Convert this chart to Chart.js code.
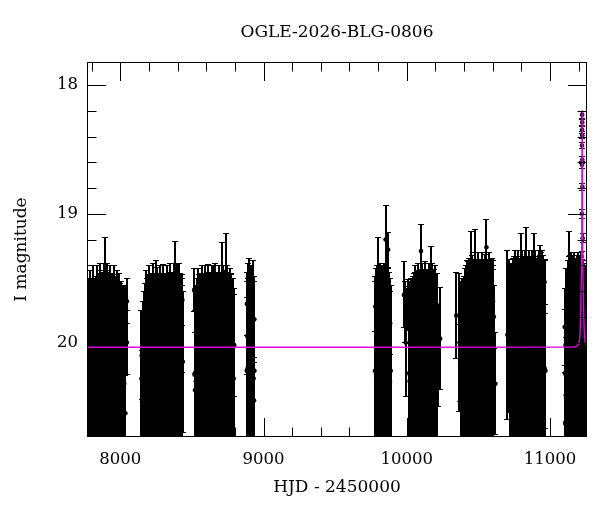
<!DOCTYPE html>
<html>
<head>
<meta charset="utf-8">
<script src="https://cdn.jsdelivr.net/npm/chart.js@4/dist/chart.umd.min.js"></script>
<style>
  html, body { margin: 0; padding: 0; background: #fff; }
  canvas { display: block; }
</style>
</head>
<body>
<canvas id="lc" width="600" height="512"></canvas>
<script>
// OGLE light curve, rows are [HJD - 2450000, I mag, error]
const season1 = [
  [7772, 20.20, 0.62], [7780, 20.30, 0.75], [7788, 20.18, 0.74], [7796, 20.25, 0.73],
  [7804, 20.34, 0.84], [7812, 20.22, 0.82], [7820, 20.18, 0.68], [7828, 20.28, 0.80],
  [7836, 20.20, 0.80], [7844, 20.32, 0.84], [7852, 20.19, 0.72], [7860, 20.26, 0.88],
  [7868, 20.22, 0.76], [7876, 20.30, 0.85], [7884, 20.18, 0.80], [7892, 20.24, 0.78],
  [7900, 20.33, 0.88], [7908, 20.20, 0.82], [7916, 20.27, 0.81], [7924, 20.18, 0.72],
  [7932, 20.30, 0.90], [7940, 20.21, 0.75], [7948, 20.28, 0.81], [7956, 20.19, 0.79],
  [7964, 20.32, 0.84], [7972, 20.20, 0.70], [7980, 20.26, 0.82], [7988, 20.18, 0.66],
  [7996, 20.30, 0.76], [8004, 20.22, 0.70], [8012, 20.28, 0.72], [8020, 20.19, 0.63],
  [8028, 20.32, 0.74], [8036, 20.24, 0.64],
  [7784, 19.70, 0.20], [7826, 19.78, 0.22], [7862, 19.62, 0.18], [7893, 19.47, 0.29],
  [7901, 19.68, 0.24], [7944, 19.72, 0.20], [7990, 19.66, 0.20], [8033, 19.80, 0.25],
  [7772, 20.45, 0.30], [8036, 20.55, 0.30], [8047, 19.68, 0.18], [8047, 20.00, 0.25]
]
const season2 = [
  [8148, 20.28, 0.53], [8156, 20.22, 0.54], [8164, 20.30, 0.70], [8172, 20.18, 0.64],
  [8180, 20.25, 0.81], [8188, 20.20, 0.70], [8196, 20.32, 0.85], [8204, 20.18, 0.78],
  [8212, 20.26, 0.79], [8220, 20.20, 0.74], [8228, 20.30, 0.92], [8236, 20.19, 0.72],
  [8244, 20.28, 0.82], [8252, 20.10, 0.74], [8260, 20.22, 0.75], [8268, 20.30, 0.84],
  [8276, 20.18, 0.78], [8284, 20.25, 0.78], [8292, 20.19, 0.73], [8300, 20.28, 0.89],
  [8308, 20.20, 0.74], [8316, 20.32, 0.85], [8324, 20.16, 0.76], [8332, 20.24, 0.78],
  [8340, 20.18, 0.73], [8348, 20.30, 0.92], [8356, 20.21, 0.75], [8364, 20.27, 0.82],
  [8372, 20.16, 0.78], [8380, 20.22, 0.76], [8388, 20.30, 0.85], [8396, 20.18, 0.80],
  [8404, 20.25, 0.79], [8412, 20.20, 0.82], [8420, 20.28, 0.82], [8428, 20.22, 0.67],
  [8150, 20.10, 0.35], [8152, 20.46, 0.40], [8200, 19.70, 0.20], [8256, 19.66, 0.25],
  [8310, 19.75, 0.20], [8382, 19.58, 0.37], [8430, 19.87, 0.37], [8434, 19.67, 0.20],
  [8437, 20.15, 0.55]
]
const season3 = [
  [8520, 20.24, 0.64], [8528, 20.30, 0.75], [8536, 20.20, 0.70], [8544, 20.26, 0.84],
  [8552, 20.18, 0.71], [8560, 20.32, 0.86], [8568, 20.20, 0.80], [8576, 20.25, 0.79],
  [8584, 20.18, 0.72], [8592, 20.30, 0.90], [8600, 20.21, 0.75], [8608, 20.28, 0.83],
  [8616, 20.16, 0.77], [8624, 20.24, 0.78], [8632, 20.19, 0.74], [8640, 20.30, 0.90],
  [8648, 20.20, 0.74], [8656, 20.26, 0.81], [8664, 20.18, 0.80], [8672, 20.25, 0.79],
  [8680, 20.20, 0.75], [8688, 20.32, 0.92], [8696, 20.18, 0.72], [8704, 20.24, 0.79],
  [8720, 20.20, 0.80], [8728, 20.28, 0.82], [8736, 20.19, 0.74], [8744, 20.26, 0.86],
  [8752, 20.20, 0.74], [8760, 20.30, 0.84], [8768, 20.18, 0.76], [8776, 20.24, 0.77],
  [8784, 20.20, 0.70], [8792, 20.28, 0.70],
  [8516, 19.59, 0.17], [8519, 20.25, 0.50], [8522, 20.37, 0.45], [8580, 19.68, 0.20],
  [8650, 19.62, 0.22], [8700, 19.75, 0.20], [8712, 19.55, 0.33], [8735, 19.45, 0.30],
  [8770, 19.66, 0.20], [8796, 20.02, 0.40]
]
const season4 = [
  [8883, 20.22, 0.70], [8889, 20.20, 0.82], [8895, 20.28, 0.78], [8901, 20.15, 0.81],
  [8907, 20.30, 0.82], [8913, 20.18, 0.78], [8919, 20.25, 0.75], [8925, 20.20, 0.84],
  [8931, 20.28, 0.80], [8937, 20.22, 0.70],
  [8884, 19.70, 0.25], [8886, 19.95, 0.30], [8901, 19.60, 0.26], [8934, 20.45, 0.30],
  [8936, 19.82, 0.30]
]
const season5 = [
  [9778, 20.22, 0.74], [9786, 20.28, 0.86], [9794, 20.18, 0.78], [9802, 20.25, 0.83],
  [9810, 20.20, 0.82], [9818, 20.30, 0.88], [9826, 20.16, 0.76], [9834, 20.24, 0.83],
  [9842, 20.20, 0.82], [9850, 20.28, 0.86], [9858, 20.18, 0.78], [9866, 20.25, 0.83],
  [9874, 20.20, 0.75], [9882, 20.30, 0.80], [9888, 20.22, 0.67],
  [9780, 19.72, 0.20], [9790, 19.62, 0.20], [9796, 19.55, 0.37], [9852, 19.20, 0.27],
  [9870, 19.28, 0.14], [9884, 19.85, 0.25]
]
const season6 = [
  [10016, 20.24, 0.68], [10024, 20.18, 0.66], [10032, 20.28, 0.78], [10040, 20.20, 0.72],
  [10048, 20.26, 0.80], [10056, 20.16, 0.76], [10064, 20.24, 0.79], [10072, 20.20, 0.76],
  [10080, 20.30, 0.92], [10088, 20.18, 0.74], [10096, 20.25, 0.82], [10104, 20.20, 0.82],
  [10112, 20.28, 0.84], [10120, 20.16, 0.73], [10128, 20.24, 0.87], [10136, 20.20, 0.76],
  [10144, 20.30, 0.87], [10152, 20.18, 0.80], [10160, 20.25, 0.81], [10168, 20.20, 0.77],
  [10176, 20.28, 0.90], [10184, 20.18, 0.74], [10192, 20.25, 0.82], [10200, 20.20, 0.80],
  [10208, 20.28, 0.82],
  [9980, 19.63, 0.26], [9990, 19.76, 0.24], [9992, 20.00, 0.42], [10012, 19.71, 0.20],
  [10020, 20.30, 0.30], [10060, 19.65, 0.20], [10099, 19.29, 0.21], [10140, 19.72, 0.20],
  [10172, 19.55, 0.30], [10213, 19.71, 0.25], [10216, 20.10, 0.40], [10233, 19.97, 0.40]
]
const season7 = [
  [10380, 20.20, 0.68], [10388, 20.26, 0.76], [10396, 20.18, 0.70], [10404, 20.25, 0.83],
  [10412, 20.20, 0.80], [10420, 20.28, 0.92], [10428, 20.16, 0.79], [10436, 20.24, 0.90],
  [10444, 20.20, 0.84], [10452, 20.28, 0.96], [10460, 20.18, 0.82], [10468, 20.25, 0.90],
  [10476, 20.20, 0.90], [10484, 20.28, 0.92], [10492, 20.16, 0.81], [10500, 20.24, 0.94],
  [10508, 20.20, 0.84], [10516, 20.30, 0.95], [10524, 20.18, 0.88], [10532, 20.25, 0.89],
  [10540, 20.20, 0.85], [10548, 20.28, 0.97], [10556, 20.18, 0.82], [10564, 20.24, 0.89],
  [10572, 20.20, 0.90], [10580, 20.28, 0.92], [10588, 20.18, 0.83], [10596, 20.25, 0.91],
  [10602, 20.20, 0.80],
  [10345, 19.79, 0.34], [10368, 20.00, 0.54], [10372, 20.16, 0.30], [10445, 19.45, 0.32],
  [10470, 19.60, 0.20], [10476, 19.55, 0.43], [10530, 19.55, 0.20], [10556, 19.26, 0.22],
  [10602, 19.68, 0.32], [10605, 19.93, 0.50], [10608, 19.80, 0.25], [10619, 20.32, 0.40]
]
const season8 = [
  [10722, 20.20, 0.75], [10730, 20.26, 0.88], [10738, 20.18, 0.84], [10746, 20.25, 0.92],
  [10754, 20.20, 0.92], [10762, 20.28, 0.94], [10770, 20.16, 0.83], [10778, 20.24, 0.96],
  [10786, 20.20, 0.86], [10794, 20.28, 0.95], [10802, 20.18, 0.90], [10810, 20.25, 0.91],
  [10818, 20.20, 0.87], [10826, 20.28, 1.00], [10834, 20.16, 0.82], [10842, 20.24, 0.91],
  [10850, 20.20, 0.92], [10858, 20.28, 0.94], [10866, 20.18, 0.85], [10874, 20.25, 0.97],
  [10882, 20.20, 0.86], [10890, 20.28, 0.95], [10898, 20.18, 0.90], [10906, 20.24, 0.90],
  [10914, 20.20, 0.87], [10922, 20.28, 1.00], [10930, 20.18, 0.86], [10938, 20.25, 0.95],
  [10946, 20.20, 0.92], [10954, 20.28, 0.96], [10962, 20.20, 0.84],
  [10702, 19.94, 0.66], [10712, 19.65, 0.30], [10716, 20.20, 0.35], [10790, 19.62, 0.20],
  [10800, 19.40, 0.25], [10835, 19.38, 0.28], [10860, 19.58, 0.20], [10886, 19.50, 0.35],
  [10933, 19.60, 0.36], [10962, 19.53, 0.18], [10968, 20.22, 0.45]
]
const season9 = [
  [11114, 20.20, 0.78], [11122, 20.26, 0.90], [11130, 20.18, 0.85], [11138, 20.25, 0.93],
  [11146, 20.20, 0.90], [11154, 20.28, 0.94], [11162, 20.16, 0.84], [11170, 20.24, 0.94],
  [11178, 20.20, 0.86], [11186, 20.28, 0.96], [11194, 20.18, 0.88], [11202, 20.25, 0.91],
  [11210, 20.20, 0.87], [11218, 20.28, 0.98], [11226, 20.20, 0.85], [11232, 20.20, 0.84],
  [11240, 20.26, 0.88], [11248, 20.18, 0.78], [11256, 20.24, 0.82],
  [11102, 19.88, 0.30], [11104, 20.24, 0.50], [11106, 20.63, 0.40], [11108, 20.02, 0.60],
  [11110, 20.41, 0.45], [11134, 19.50, 0.37], [11180, 19.62, 0.20]
]
const peakPoints = [
  [11224.2, 18.23, 0.03], [11224.8, 18.29, 0.03], [11223.6, 18.35, 0.03], [11225.0, 18.39, 0.03],
  [11223.3, 18.47, 0.03], [11225.5, 18.58, 0.03], [11222.9, 18.62, 0.03], [11225.9, 18.79, 0.03],
  [11222.1, 19.00, 0.04], [11227.2, 19.19, 0.04], [11220.5, 19.33, 0.04], [11228.9, 19.44, 0.04]
]

// microlensing model
const modelHjd = [7700, 11154.3, 11184.3, 11199.3, 11207.3, 11213.3, 11216.8, 11219.8, 11221.3,
  11222.1, 11222.8, 11223.3, 11223.8, 11224.3, 11224.8, 11225.3, 11225.8, 11226.5, 11227.3,
  11228.8, 11231.8, 11235.3, 11241.3, 11249.3, 11264.3, 11300]
const modelMag = [20.037, 20.036, 20.03, 20.01, 19.96, 19.78, 19.59, 19.42, 19.2,
  19.0, 18.72, 18.48, 18.28, 18.20, 18.28, 18.48, 18.72, 19.0, 19.2,
  19.42, 19.59, 19.78, 19.96, 20.01, 20.03, 20.036]

const hjdTicks = [8000, 9000, 10000, 11000]
const hjdMinorTicks = [7800, 8200, 8400, 8600, 8800, 9200, 9400, 9600, 9800,
  10200, 10400, 10600, 10800, 11200]
const magTicks = [18, 19, 20]
const magMinorTicks = [18.2, 18.4, 18.6, 18.8, 19.2, 19.4, 19.6, 19.8, 20.2, 20.4, 20.6]

const serif = 'DejaVu Serif'

let allObs = [].concat(season1, season2, season3, season4, season5,
  season6, season7, season8, season9, peakPoints)

// error bars go under the dots, frame and inward ticks on top
const lightCurvePlugin = {
  id: 'lightCurve',
  beforeDatasetsDraw(chart) {
    let ctx = chart.ctx
    let area = chart.chartArea
    let x = chart.scales.x
    let y = chart.scales.y
    ctx.save()
    ctx.beginPath()
    ctx.rect(area.left, area.top, area.right - area.left, area.bottom - area.top)
    ctx.clip()
    ctx.fillStyle = '#000'
    allObs.forEach(o => {
      // snapped to whole pixels so the dense seasons come out solid black
      let px = Math.round(x.getPixelForValue(o[0]))
      let y1 = Math.round(y.getPixelForValue(o[1] - o[2]))
      let y2 = Math.round(y.getPixelForValue(o[1] + o[2]))
      ctx.fillRect(px - 1, y1, 2, y2 - y1)
      ctx.fillRect(px - 3, y1, 6, 1)
      ctx.fillRect(px - 3, y2 - 1, 6, 1)
    })
    ctx.restore()
  },
  afterDatasetsDraw(chart) {
    let ctx = chart.ctx
    let area = chart.chartArea
    let x = chart.scales.x
    let y = chart.scales.y
    ctx.save()
    ctx.strokeStyle = '#000'
    ctx.lineWidth = 1
    ctx.strokeRect(area.left + 0.5, area.top + 0.5, area.right - area.left - 1, area.bottom - area.top - 1)

    let tickX = (values, len) => {
      values.forEach(v => {
        let px = Math.round(x.getPixelForValue(v)) + 0.5
        ctx.beginPath()
        ctx.moveTo(px, area.bottom)
        ctx.lineTo(px, area.bottom - len)
        ctx.moveTo(px, area.top)
        ctx.lineTo(px, area.top + len)
        ctx.stroke()
      })
    }
    let tickY = (values, len) => {
      values.forEach(v => {
        let py = Math.round(y.getPixelForValue(v)) + 0.5
        ctx.beginPath()
        ctx.moveTo(area.left, py)
        ctx.lineTo(area.left + len, py)
        ctx.moveTo(area.right, py)
        ctx.lineTo(area.right - len, py)
        ctx.stroke()
      })
    }
    tickX(hjdTicks, 19)
    tickX(hjdMinorTicks, 9.5)
    tickY(magTicks, 19)
    tickY(magMinorTicks, 9.5)

    ctx.fillStyle = '#000'
    ctx.font = '17px "' + serif + '"'
    ctx.textAlign = 'center'
    ctx.textBaseline = 'middle'
    ctx.fillText('OGLE-2026-BLG-0806', (area.left + area.right) / 2, 33)
    ctx.restore()
  }
}

let ctx = document.getElementById('lc').getContext('2d')
let chart = new Chart(ctx, {
  type: 'scatter',
  data: {
    datasets: [{
      label: 'model',
      type: 'line',
      data: modelHjd.map((t, i) => ({ x: t, y: modelMag[i] })),
      borderColor: '#e000e0',
      borderWidth: 1.4,
      pointRadius: 0,
      fill: false,
      tension: 0.3,
      order: 0
    }, {
      label: 'OGLE',
      data: allObs.map(o => ({ x: o[0], y: o[1] })),
      backgroundColor: '#000',
      borderColor: '#000',
      pointRadius: 2.3,
      pointBorderWidth: 0,
      order: 1
    }]
  },
  options: {
    responsive: false,
    animation: false,
    devicePixelRatio: 1,
    layout: { padding: { top: 62, right: 13, left: 0, bottom: 0 } },
    plugins: {
      legend: { display: false },
      title: { display: false },
      tooltip: { enabled: false }
    },
    scales: {
      x: {
        type: 'linear',
        min: 7768,
        max: 11258,
        grid: { display: false, drawTicks: false },
        border: { display: false },
        afterBuildTicks: s => { s.ticks = hjdTicks.map(v => ({ value: v })) },
        afterFit: s => { s.height = 75 },
        ticks: {
          padding: 13,
          color: '#000',
          maxRotation: 0,
          font: { family: serif, size: 16.5 },
          callback: v => String(v)
        },
        title: {
          display: true,
          text: 'HJD - 2450000',
          color: '#000',
          font: { family: serif, size: 17 },
          padding: { top: 0, bottom: 14 }
        }
      },
      y: {
        type: 'linear',
        reverse: true,
        min: 17.821,
        max: 20.734,
        grid: { display: false, drawTicks: false },
        border: { display: false },
        afterBuildTicks: s => { s.ticks = magTicks.map(v => ({ value: v })) },
        afterFit: s => { s.width = 87 },
        ticks: {
          padding: 9,
          color: '#000',
          font: { family: serif, size: 16.5 },
          callback: v => String(v)
        },
        title: {
          display: true,
          text: 'I magnitude',
          color: '#000',
          font: { family: serif, size: 17 },
          padding: { top: 11, bottom: 0 }
        }
      }
    }
  },
  plugins: [lightCurvePlugin]
})
</script>
</body>
</html>
